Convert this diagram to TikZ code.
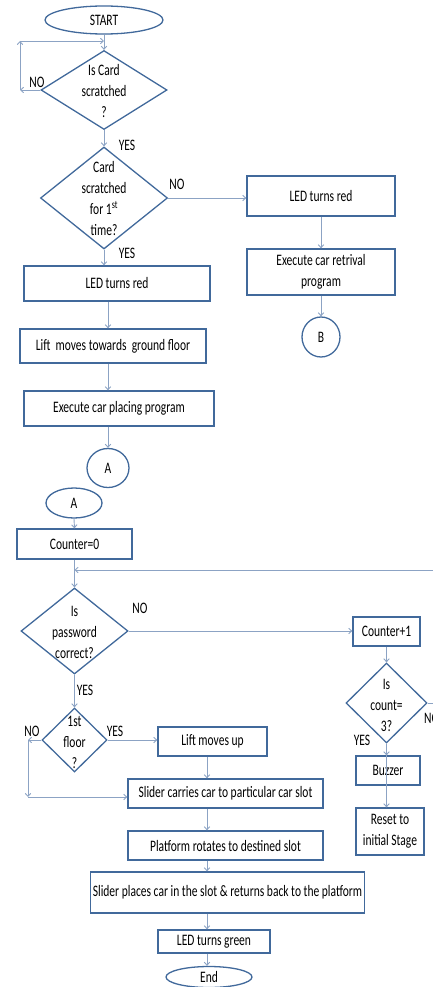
\documentclass[tikz,border=0pt]{standalone}
\usepackage{fontspec}
\setmainfont{Carlito}[FakeStretch=0.72]
\usetikzlibrary{shapes.geometric,arrows.meta,calc}
\definecolor{bdr}{RGB}{65,105,155}
\definecolor{lnk}{RGB}{140,163,196}
\newcommand\ftxt{\fontsize{16}{21}\selectfont}
\begin{document}
\begin{tikzpicture}[x=1pt,y=-1pt,
  box/.style={draw=bdr, line width=1.3pt, rectangle, inner sep=1pt, align=center, font=\ftxt},
  dia/.style={draw=bdr, line width=1.3pt, diamond, inner sep=0pt},
  term/.style={draw=bdr, line width=1.3pt, ellipse, inner sep=0pt, font=\ftxt},
  conn/.style={draw=lnk, line width=0.9pt, -{Straight Barb[length=3pt,width=5.5pt]}},
  lbl/.style={font=\ftxt, inner sep=0pt, align=center}]
\useasboundingbox (0,0) rectangle (433,987);
\clip (0,0) rectangle (433,987);
% ---------- first part ----------
\node[term, minimum width=118pt, minimum height=28pt] (start) at (104,20) {START};
\node[dia, minimum width=126pt, minimum height=79pt] (d1) at (104,90) {};
\node[lbl] (d1t) at (104,91) {Is Card\\scratched\\?};
\node[dia, minimum width=127pt, minimum height=102pt] (d2) at (104,198) {};
\node[lbl] (d2t) at (104,199) {Card\\scratched\\for 1\textsuperscript{st}\\time?};
\node[box, minimum width=148pt, minimum height=40pt] (ledR) at (321,196) {LED turns red};
\node[box, minimum width=148pt, minimum height=46pt] (retr) at (321,272) {Execute car retrival\\program};
\node[term, minimum width=38pt, minimum height=40pt] (B) at (321,337) {B};
\node[box, minimum width=186pt, minimum height=35pt] (ledL) at (117,283.5) {LED turns red};
\node[box, minimum width=186pt, minimum height=34pt] (lift) at (113,346) {Lift\ \ moves towards\ \ ground floor};
\node[box, minimum width=190pt, minimum height=35pt] (place) at (119,408.5) {Execute car placing program};
\node[term, minimum width=42pt, minimum height=39pt] (A) at (108,468) {A};
% labels
\node[lbl] (y1) at (127,145) {YES};
\node[lbl] (n1) at (37,82) {NO};
\node[lbl] (n2) at (177,184) {NO};
\node[lbl] (y2) at (127,253) {YES};
% connectors
\coordinate (l1a) at (20,90);
\coordinate (l1b) at (20,41);
\draw[conn] (start.south) -- (d1.north);
\draw[conn] (d1.west) -- (l1a);
\draw[conn] (l1a) -- (l1b);
\draw[conn] (l1b) -- (l1b -| d1.north);
\draw[conn] (d1.south) -- (d2.north);
\draw[conn] (d2.east) -- (d2.east -| ledR.west);
\draw[conn] (ledR.south) -- (retr.north);
\draw[conn] (retr.south) -- (B.north);
\draw[conn] (d2.south) -- (d2.south |- ledL.north);
\draw[conn] (ledL.south -| A) -- (lift.north -| A);
\draw[conn] (lift.south -| A) -- (place.north -| A);
\draw[conn] (place.south -| A) -- (A.north);
% ---------- second part ----------
\node[term, minimum width=56pt, minimum height=30pt] (A2) at (74,503) {A};
\node[box, minimum width=115pt, minimum height=30pt] (c0) at (74.5,544) {Counter=0};
\node[dia, minimum width=107pt, minimum height=86pt] (d3) at (74.5,631) {};
\node[lbl] (d3t) at (74.5,632) {Is\\password\\correct?};
\node[box, minimum width=67pt, minimum height=29pt] (cp1) at (386.5,631.5) {Counter+1};
\node[dia, minimum width=81pt, minimum height=80pt] (cnt) at (386.5,703) {};
\node[lbl] (cntt) at (386.5,705) {Is\\count=\\3?};
\node[box, minimum width=64pt, minimum height=29pt] (buzz) at (388,770.5) {Buzzer};
\node[box, minimum width=68pt, minimum height=47pt] (reset) at (390,831.5) {Reset to\\initial Stage};
\node[dia, minimum width=65pt, minimum height=64pt] (d4) at (74.5,740) {};
\node[lbl] (d4t) at (74.5,742) {1st\\floor\\?};
\node[box, minimum width=109pt, minimum height=29pt] (liftup) at (212.5,741.5) {Lift moves up};
\node[box, minimum width=195pt, minimum height=29pt] (slider) at (225.5,793.5) {Slider carries car to particular car slot};
\node[box, minimum width=195pt, minimum height=29pt] (plat) at (225.5,845.5) {Platform rotates to destined slot};
\node[box, minimum width=273pt, minimum height=41pt, inner xsep=2pt] (sp) at (227.5,892.5) {Slider places car in the slot \& returns back to the platform};
\node[box, minimum width=112pt, minimum height=23pt] (green) at (214,941.5) {LED turns green};
\node[term, minimum width=86pt, minimum height=21pt] (endn) at (209,977) {End};
% labels
\node[lbl] (n3) at (140,608) {NO};
\node[lbl] (y3) at (85,690) {YES};
\node[lbl] (n4) at (32,731) {NO};
\node[lbl] (y4) at (115,731) {YES};
\node[lbl] (y5) at (362,740) {YES};
\node[lbl, anchor=west] (n5) at (424,718) {NO};
% connectors
\coordinate (colB) at (207,900);
\coordinate (fbR) at (440,703);
\coordinate (fbT) at (440,570);
\coordinate (n4a) at (28,740);
\coordinate (n4b) at (28,797);
\draw[conn] (A2.south) -- (c0.north);
\draw[conn] (c0.south) -- (d3.north);
\draw[conn] (cnt.east) -- (fbR) -- (fbT) -- (fbT -| c0.south);
\draw[conn] (d3.east) -- (d3.east -| cp1.west);
\draw[conn] (cp1.south) -- (cnt.north);
\draw[conn] (cnt.south) -- (cnt.south |- buzz.north);
\draw[conn] (cnt.south |- buzz.north) -- (cnt.south |- reset.north);
\draw[conn] (d3.south) -- (d4.north);
\draw[conn] (d4.east) -- (d4.east -| liftup.west);
\draw[conn] (d4.west) -- (n4a);
\draw[conn] (n4a) -- (n4b);
\draw[conn] (n4b) -- (n4b -| slider.west);
\draw[conn] (liftup.south -| colB) -- (slider.north -| colB);
\draw[conn] (slider.south -| colB) -- (plat.north -| colB);
\draw[conn] (plat.south -| colB) -- (sp.north -| colB);
\draw[conn] (sp.south -| colB) -- (green.north -| colB);
\draw[conn] (green.south -| colB) -- (endn.north -| colB);
\end{tikzpicture}
\end{document}
